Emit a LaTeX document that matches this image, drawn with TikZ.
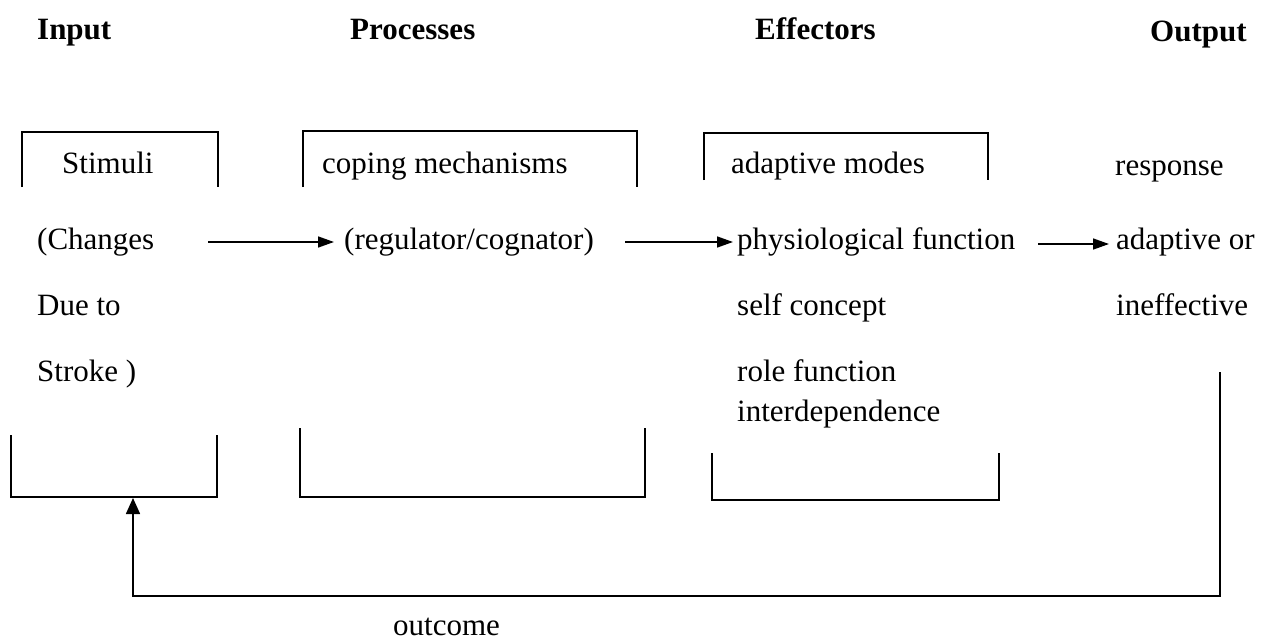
\documentclass[tikz,border=0pt]{standalone}
\usepackage{fontspec}
\setmainfont{Liberation Serif}
\usetikzlibrary{arrows.meta}
\begin{document}
\begin{tikzpicture}[x=1pt,y=-1pt,
  txt/.style={anchor=base west,inner sep=0pt,font=\fontsize{31}{36}\selectfont},
  hdr/.style={anchor=base west,inner sep=0pt,font=\fontsize{31}{36}\selectfont\bfseries},
  brk/.style={line width=1.6pt},
  arr/.style={line width=1.6pt,-{Triangle[length=16pt,width=11pt]}},
  fb/.style={line width=1.6pt,-{Triangle[length=16pt,width=14pt]}}]
\useasboundingbox (0,0) rectangle (1272,642);
% headers
\node[hdr] (hin) at (37,40) {Input};
\node[hdr] (hpr) at (350,40) {Processes};
\node[hdr] (hef) at (755,40) {Effectors};
\node[hdr] (hout) at (1150,42) {Output};
% input column
\node[txt] (stim) at (62,173) {Stimuli};
\node[txt] (chg) at (37,249) {(Changes};
\node[txt] (due) at (37,315) {Due to};
\node[txt] (strk) at (37,381) {Stroke )};
% processes column
\node[txt] (cop) at (322,173) {coping mechanisms};
\node[txt] (reg) at (344,249) {(regulator/cognator)};
% effectors column
\node[txt] (adm) at (731,173) {adaptive modes};
\node[txt] (phy) at (737,249) {physiological function};
\node[txt] (self) at (737,315) {self concept};
\node[txt] (role) at (737,381) {role function};
\node[txt] (inter) at (737,421) {interdependence};
% output column
\node[txt] (resp) at (1115,175) {response};
\node[txt] (adap) at (1116,249) {adaptive or};
\node[txt] (ineff) at (1116,315) {ineffective};
\node[txt] (outc) at (393,635) {outcome};
% brackets
\draw[brk] (22,187) -- (22,132) -- (218,132) -- (218,187);
\draw[brk] (11,435) -- (11,497) -- (217,497) -- (217,435);
\draw[brk] (303,187) -- (303,131) -- (637,131) -- (637,187);
\draw[brk] (300,428) -- (300,497) -- (645,497) -- (645,428);
\draw[brk] (704,180) -- (704,133) -- (988,133) -- (988,180);
\draw[brk] (712,453) -- (712,500) -- (999,500) -- (999,453);
% arrow coordinates
\coordinate (a1s) at (208,242);
\coordinate (a1e) at (334,242);
\coordinate (a2s) at (625,242);
\coordinate (a2e) at (733,242);
\coordinate (a3s) at (1038,244);
\coordinate (a3e) at (1109,244);
\coordinate (fbs) at (1220,372);
\coordinate (fbr) at (1220,596);
\coordinate (fbl) at (133,596);
\coordinate (fbe) at (133,498);
\draw[arr] (a1s) -- (a1e);
\draw[arr] (a2s) -- (a2e);
\draw[arr] (a3s) -- (a3e);
\draw[fb] (fbs) -- (fbr) -- (fbl) -- (fbe);
\end{tikzpicture}
\end{document}
